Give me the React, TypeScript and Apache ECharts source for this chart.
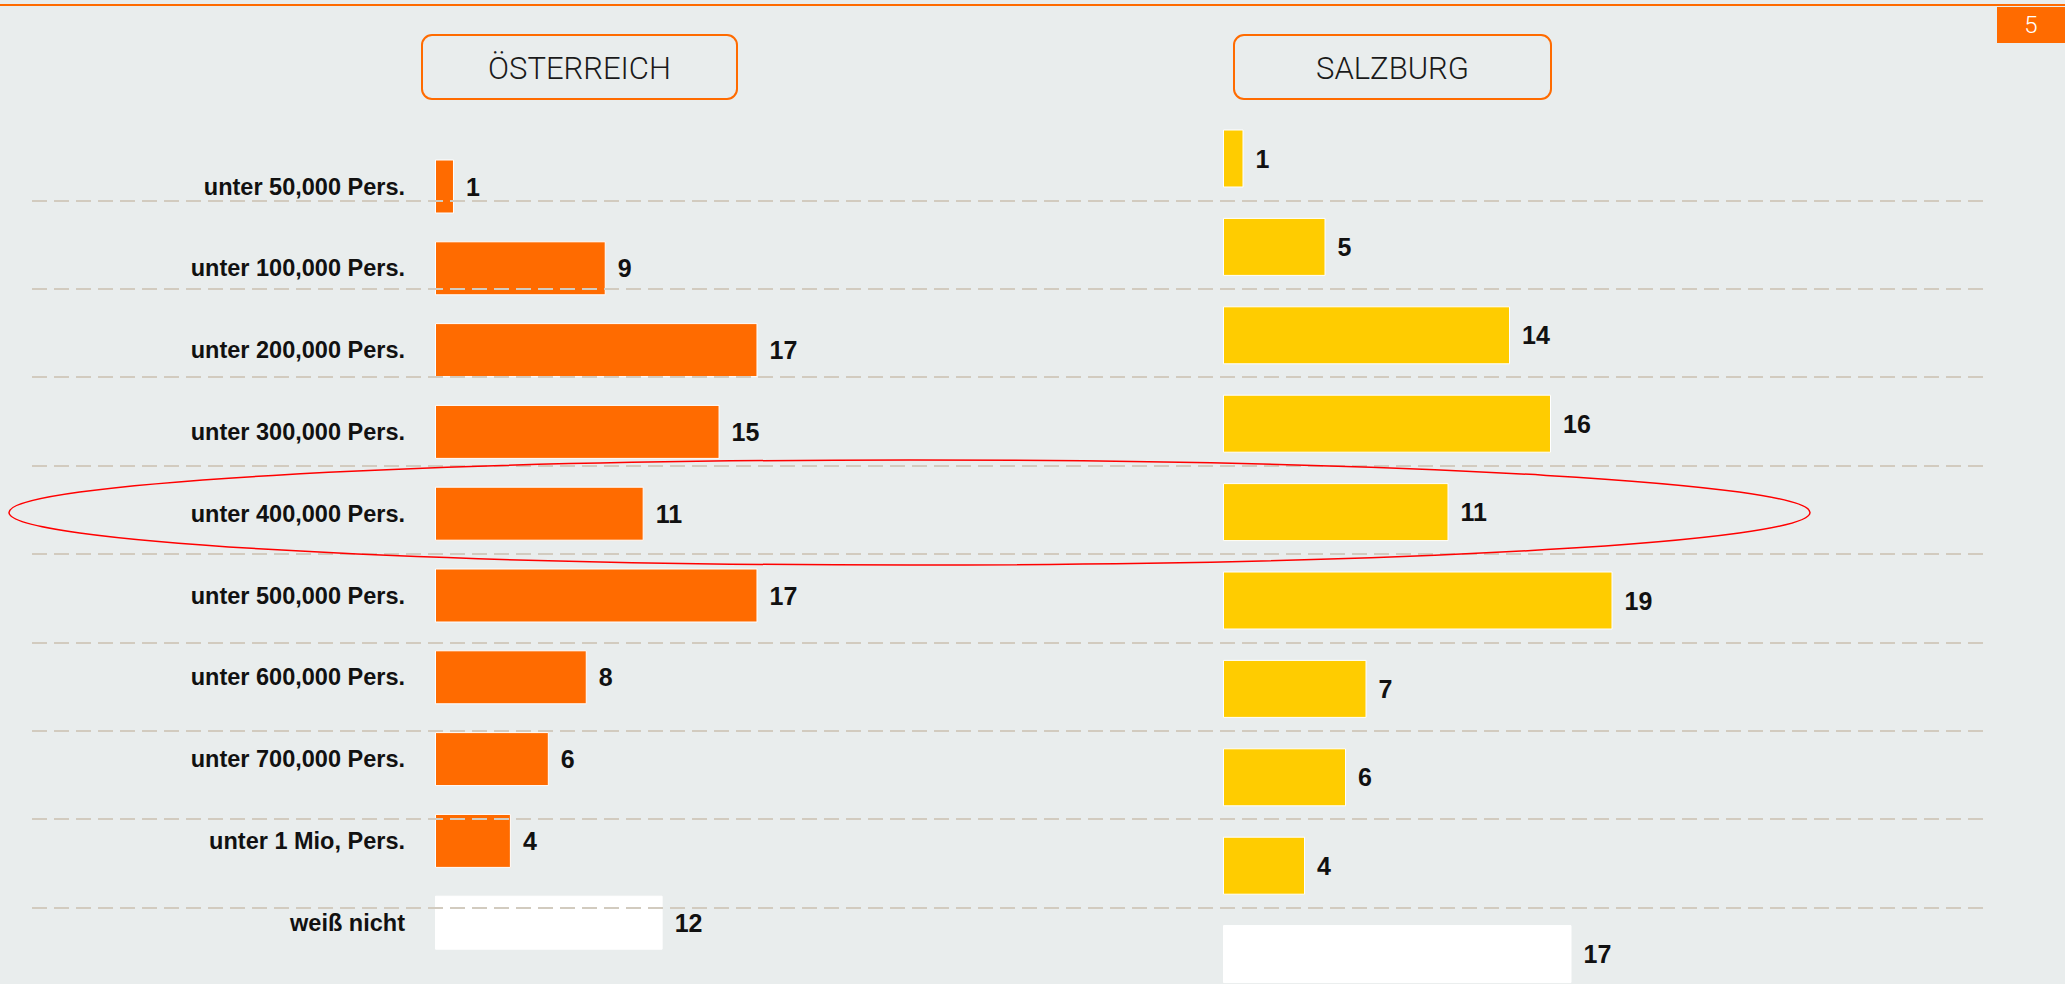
import React, { useEffect, useRef } from "react";
import * as echarts from "echarts";

const categories = [
  "unter 50,000 Pers.",
  "unter 100,000 Pers.",
  "unter 200,000 Pers.",
  "unter 300,000 Pers.",
  "unter 400,000 Pers.",
  "unter 500,000 Pers.",
  "unter 600,000 Pers.",
  "unter 700,000 Pers.",
  "unter 1 Mio, Pers.",
  "weiß nicht",
];
const oesterreich = [1, 9, 17, 15, 11, 17, 8, 6, 4, 12];
const salzburg = [1, 5, 14, 16, 11, 19, 7, 6, 4, 17];
const panelTitles = ["ÖSTERREICH", "SALZBURG"];
const pageNumber = "5";

const ORANGE = "#FF6B00";
const YELLOW = "#FFCC00";
const BG = "#E9EDED";
const LABEL_FONT = "'Liberation Sans', Arial, sans-serif";

function buildData(values: number[], color: string) {
  return values.map((v, i) =>
    i === values.length - 1
      ? { value: v, itemStyle: { color: "#FFFFFF" } }
      : { value: v, itemStyle: { color } }
  );
}

export default function App() {
  const ref = useRef<HTMLDivElement>(null);
  useEffect(() => {
    if (!ref.current) return;
    const chart = echarts.init(ref.current, undefined, { renderer: "svg" });
    const valueLabel = {
      show: true,
      position: "right",
      distance: 12,
      fontFamily: LABEL_FONT,
      fontWeight: "bold",
      fontSize: 25,
      color: "#111",
    };
    chart.setOption({
      animation: false,
      backgroundColor: BG,
      grid: [
        { left: 435, top: 145.6, width: 474.25, height: 818, outerBoundsMode: "none", containLabel: false },
        { left: 1223, top: 114.3, width: 615, height: 884, outerBoundsMode: "none", containLabel: false },
        { left: 32, top: 112, width: 1952, height: 884, outerBoundsMode: "none", containLabel: false },
      ],
      xAxis: [
        { gridIndex: 0, type: "value", min: 0, max: 25, show: false },
        { gridIndex: 1, type: "value", min: 0, max: 30, show: false },
        { gridIndex: 2, type: "value", min: 0, max: 1, show: false },
      ],
      yAxis: [
        {
          gridIndex: 0,
          type: "category",
          data: categories,
          inverse: true,
          axisLine: { show: false },
          axisTick: { show: false },
          splitLine: { show: false },
          axisLabel: {
            margin: 30,
            fontFamily: LABEL_FONT,
            fontWeight: "bold",
            fontSize: 23.5,
            color: "#111",
          },
        },
        {
          gridIndex: 1,
          type: "category",
          data: categories,
          inverse: true,
          show: false,
        },
        {
          gridIndex: 2,
          type: "category",
          data: categories,
          inverse: true,
          z: 3,
          axisLine: { show: false },
          axisTick: { show: false },
          axisLabel: { show: false },
          splitLine: {
            show: true,
            interval: 0,
            showMinLine: false,
            showMaxLine: false,
            lineStyle: { color: "#D2CBBF", width: 2, type: [15, 7] },
          },
        },
      ],
      series: [
        {
          type: "bar",
          xAxisIndex: 0,
          yAxisIndex: 0,
          barWidth: 54,
          data: buildData(oesterreich, ORANGE),
          itemStyle: { borderColor: "#FFFFFF", borderWidth: 1 },
          label: valueLabel,
        },
        {
          type: "bar",
          xAxisIndex: 1,
          yAxisIndex: 1,
          barWidth: 58,
          data: buildData(salzburg, YELLOW),
          itemStyle: { borderColor: "#FFFFFF", borderWidth: 1 },
          label: valueLabel,
        },
      ],
      graphic: [
        {
          type: "line",
          shape: { x1: 0, y1: 5, x2: 2065, y2: 5 },
          style: { stroke: ORANGE, lineWidth: 2 },
          z: 10,
        },
        {
          type: "rect",
          shape: { x: 1997, y: 7, width: 68, height: 36 },
          style: { fill: ORANGE },
          z: 10,
        },
        {
          type: "text",
          x: 2031,
          y: 25,
          style: {
            text: pageNumber,
            fill: "#FFFFFF",
            fontFamily: "Roboto",
            fontWeight: 300,
            fontSize: 24,
            align: "center",
            verticalAlign: "middle",
          },
          z: 11,
        },
        {
          type: "rect",
          shape: { x: 422, y: 35, width: 315, height: 64, r: 10 },
          style: { fill: "none", stroke: ORANGE, lineWidth: 2 },
          z: 10,
        },
        {
          type: "text",
          x: 579.5,
          y: 68,
          style: {
            text: panelTitles[0],
            fill: "#1A1A1A",
            fontFamily: "Roboto",
            fontWeight: 300,
            fontSize: 31,
            align: "center",
            verticalAlign: "middle",
          },
          z: 11,
        },
        {
          type: "rect",
          shape: { x: 1234, y: 35, width: 317, height: 64, r: 10 },
          style: { fill: "none", stroke: ORANGE, lineWidth: 2 },
          z: 10,
        },
        {
          type: "text",
          x: 1392.5,
          y: 68,
          style: {
            text: panelTitles[1],
            fill: "#1A1A1A",
            fontFamily: "Roboto",
            fontWeight: 300,
            fontSize: 31,
            align: "center",
            verticalAlign: "middle",
          },
          z: 11,
        },
        {
          type: "ellipse",
          shape: { cx: 909.5, cy: 512.5, rx: 900.5, ry: 52.5 },
          style: { fill: "none", stroke: "#FF0000", lineWidth: 1.5 },
          z: 20,
        },
      ],
    });
    return () => chart.dispose();
  }, []);
  return (
    <div
      ref={ref}
      style={{ position: "fixed", left: 0, top: 0, width: 2065, height: 984 }}
    />
  );
}
